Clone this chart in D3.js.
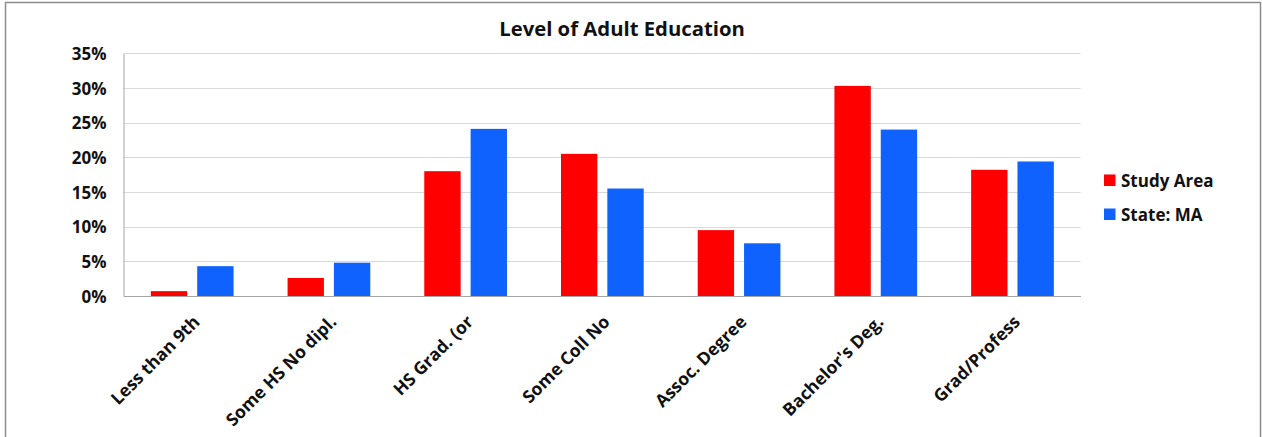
<!DOCTYPE html>
<html><head><meta charset="utf-8">
<script src="https://cdn.jsdelivr.net/npm/d3@7"></script>
<style>body{margin:0;background:#fff}svg{display:block}text{font-family:"Open Sans",sans-serif;font-weight:bold;fill:#111}</style>
</head><body>
<svg id="c" width="1262" height="437"></svg>
<script>
const categories = ["Less than 9th","Some HS No dipl.","HS Grad. (or","Some Coll No","Assoc. Degree","Bachelor's Deg.","Grad/Profess"];
const seriesNames = ["Study Area","State: MA"];
const studyArea = [0.7, 2.6, 18.0, 20.5, 9.5, 30.3, 18.2];
const stateMA = [4.3, 4.8, 24.1, 15.5, 7.6, 24.0, 19.4];
const yTicks = [0,5,10,15,20,25,30,35];
const colors = ["#ff0000","#0f62fe"];

(function(){
const svg = d3.select("#c");
svg.append("rect").attr("x",5.5).attr("y",2.5).attr("width",1255).attr("height",440)
  .attr("fill","#fff").attr("stroke","#8c8c8c").attr("stroke-width",1.5);

const pL=123.5, pR=1080.5, pT=53.3, pB=296;
const x = d3.scaleBand().domain(categories).range([pL,pR]).paddingInner(0).paddingOuter(0);
const y = d3.scaleLinear().domain([0,35]).range([pB,pT]);
const bw = x.bandwidth();
const barW = bw*0.266, gap = bw*0.073, off = bw*0.2;

svg.append("text").attr("x",622).attr("y",36).attr("text-anchor","middle")
  .style("font-size","20.3px").text("Level of Adult Education");

svg.append("g").selectAll("line").data(yTicks.filter(d=>d>0)).join("line")
  .attr("x1",pL).attr("x2",pR).attr("y1",d=>Math.round(y(d))+0.5).attr("y2",d=>Math.round(y(d))+0.5)
  .attr("stroke","#d9d9d9").attr("stroke-width",1);

const yAxis = d3.axisLeft(y).tickValues(yTicks).tickSize(0).tickPadding(17).tickFormat(d=>d+"%");
const gy = svg.append("g").attr("transform",`translate(${pL},0)`).call(yAxis);
gy.select(".domain").attr("stroke","#a6a6a6");
gy.selectAll("text").style("font-size","17px").attr("dy","0.36em").attr("fill","#111");

const data = categories.map((c,i)=>({c, v:[studyArea[i], stateMA[i]]}));
const g = svg.append("g");
[0,1].forEach(s=>{
  g.selectAll(".b"+s).data(data).join("rect").attr("class","b"+s)
    .attr("x",d=>x(d.c)+off+s*(barW+gap)).attr("width",barW)
    .attr("y",d=>y(d.v[s])).attr("height",d=>pB-y(d.v[s]))
    .attr("fill",colors[s]);
});

const xAxis = d3.axisBottom(x).tickSize(0).tickPadding(0);
const gx = svg.append("g").attr("transform",`translate(0,${pB})`).call(xAxis);
gx.select(".domain").attr("stroke","#a6a6a6");
gx.selectAll("text").style("font-size","17.5px").attr("text-anchor","end")
  .attr("dy",0).attr("y",0).attr("fill","#111")
  .attr("transform","translate(9,27) rotate(-45)");

const lg = svg.append("g");
seriesNames.forEach((n,i)=>{
  lg.append("rect").attr("x",1104).attr("y",174.5+i*34).attr("width",11.5).attr("height",11.5).attr("fill",colors[i]);
  lg.append("text").attr("x",1121).attr("y",187+i*34).style("font-size",i===0?"17px":"17px").text(n);
});
})();
</script>
</body></html>
